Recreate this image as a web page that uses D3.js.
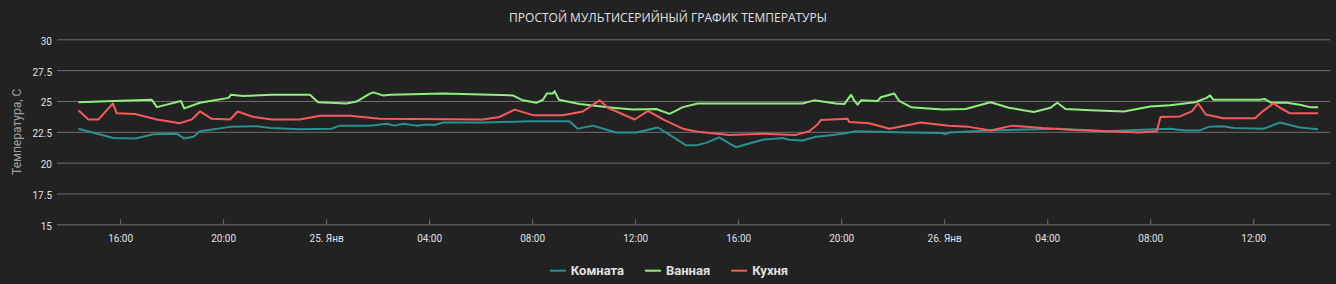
<!DOCTYPE html>
<html>
  <head>
    <meta charset="utf-8" />
    <title>temperature</title>
    <script src="https://cdn.jsdelivr.net/npm/d3@7"></script>
    <style type="text/css">
      body { margin: 0; background: #222222; }
      svg { display: block; }
    </style>
  </head>
  <body>
    <svg id="chart" width="1336" height="284"></svg>
    <script type="text/javascript">
      // hours since 24 Jan 00:00, temperature
      var komnata = [
        [14.38, 22.75], [15.74, 22.0], [16.6, 21.95], [17.3, 22.3], [18.2, 22.35], [18.5, 21.95],
        [18.85, 22.1], [19.1, 22.55], [20.27, 22.9], [21.3, 22.95], [21.85, 22.8], [22.98, 22.7],
        [24.2, 22.75], [24.53, 23.0], [25.7, 23.0], [26.35, 23.15], [26.65, 23.0], [27.0, 23.15],
        [27.5, 23.0], [27.9, 23.1], [28.2, 23.05], [28.55, 23.25], [30.1, 23.25], [31.9, 23.35],
        [33.45, 23.35], [33.77, 22.75], [34.36, 23.0], [35.26, 22.45], [36.04, 22.45], [36.88, 22.85],
        [37.34, 22.25], [37.98, 21.4], [38.36, 21.4], [38.75, 21.6], [39.26, 22.05], [39.91, 21.25],
        [40.95, 21.85], [41.72, 22.0], [41.98, 21.85], [42.5, 21.8], [43.02, 22.1], [43.53, 22.2],
        [44.05, 22.35], [44.57, 22.55], [46.63, 22.45], [47.9, 22.4], [48.05, 22.3], [48.2, 22.45],
        [49.73, 22.6], [52.45, 22.75], [54.39, 22.55], [54.98, 22.6], [56.19, 22.7], [56.77, 22.75],
        [57.35, 22.6], [57.9, 22.6], [58.26, 22.9], [58.84, 22.95], [59.23, 22.8], [60.39, 22.75],
        [60.6, 22.9], [61.04, 23.25], [61.81, 22.85], [62.52, 22.7]
      ];
      var vannaya = [
        [14.38, 24.9], [15.74, 25.0], [17.23, 25.1], [17.43, 24.5], [18.36, 25.0], [18.49, 24.4],
        [19.1, 24.85], [20.21, 25.25], [20.3, 25.5], [20.79, 25.4], [21.89, 25.5], [23.37, 25.5],
        [23.69, 24.9], [24.79, 24.8], [25.18, 24.95], [25.7, 25.6], [25.83, 25.7], [26.21, 25.45],
        [26.5, 25.5], [28.55, 25.6], [31.25, 25.45], [31.64, 25.05], [32.16, 24.85], [32.42, 25.1],
        [32.57, 25.6], [32.8, 25.6], [32.87, 25.8], [33.04, 25.1], [33.84, 24.75], [35.13, 24.45],
        [35.91, 24.3], [36.81, 24.35], [37.34, 23.95], [37.85, 24.5], [38.43, 24.8], [42.5, 24.8],
        [42.95, 25.05], [43.79, 24.8], [44.12, 24.75], [44.38, 25.5], [44.5, 25.05], [44.64, 24.7],
        [44.77, 25.05], [45.41, 25.0], [45.54, 25.3], [46.06, 25.6], [46.25, 25.0], [46.71, 24.5],
        [47.93, 24.3], [48.83, 24.35], [49.8, 24.9], [50.51, 24.45], [51.48, 24.1], [52.13, 24.45],
        [52.39, 24.85], [52.71, 24.35], [53.68, 24.25], [54.98, 24.15], [56.0, 24.55], [56.77, 24.65],
        [57.74, 24.9], [58.19, 25.25], [58.32, 25.45], [58.45, 25.1], [60.26, 25.1], [60.45, 25.15],
        [60.71, 24.85], [61.3, 24.85], [61.81, 24.7], [62.2, 24.5], [62.52, 24.5]
      ];
      var kuhnya = [
        [14.38, 24.25], [14.77, 23.5], [15.16, 23.5], [15.72, 24.8], [15.87, 24.0], [16.58, 23.95],
        [17.43, 23.5], [18.33, 23.2], [18.78, 23.5], [19.1, 24.15], [19.56, 23.55], [20.27, 23.5],
        [20.57, 24.15], [21.18, 23.7], [21.89, 23.5], [22.98, 23.5], [23.76, 23.8], [24.92, 23.8],
        [26.09, 23.55], [30.09, 23.5], [30.73, 23.7], [31.32, 24.3], [32.03, 23.85], [33.19, 23.85],
        [33.97, 24.15], [34.62, 25.05], [34.94, 24.45], [35.98, 23.5], [36.5, 24.2], [37.08, 23.5],
        [37.85, 22.75], [38.43, 22.5], [39.65, 22.25], [40.95, 22.35], [42.24, 22.25], [42.76, 22.55],
        [43.08, 23.1], [43.21, 23.45], [44.25, 23.55], [44.31, 23.3], [45.09, 23.2], [45.87, 22.75],
        [46.71, 23.1], [47.08, 23.25], [48.18, 23.0], [48.96, 22.9], [49.8, 22.6], [50.64, 23.0],
        [51.81, 22.8], [53.05, 22.65], [54.82, 22.5], [55.6, 22.45], [56.25, 22.55], [56.4, 23.7],
        [57.15, 23.75], [57.61, 24.15], [57.86, 24.8], [58.16, 23.9], [58.83, 23.6], [60.07, 23.6],
        [60.39, 24.2], [60.78, 24.8], [61.04, 24.45], [61.43, 24.0], [62.52, 24.0]
      ];

      var seriesNames = ['Комната', 'Ванная', 'Кухня'];
      var seriesColors = ['#2b908f', '#90ee7e', '#f45b5b'];
      var yTicks = [15, 17.5, 20, 22.5, 25, 27.5, 30];
      var title = 'ПРОСТОЙ МУЛЬТИСЕРИЙНЫЙ ГРАФИК ТЕМПЕРАТУРЫ';
      var yTitle = 'Температура, С';

      var t0 = Date.UTC(2021, 0, 24);
      var toDate = (h) => new Date(t0 + h * 3600000);

      var pLeft = 57, pRight = 1330, pTop = 39.3, pBottom = 224.3;
      var svg = d3.select('#chart');

      var x = d3.scaleUtc().domain([toDate(13.55), toDate(62.98)]).range([pLeft, pRight]);
      var y = d3.scaleLinear().domain([15, 30]).range([pBottom, pTop]);

      // title
      svg.append('text')
        .attr('x', 668).attr('y', 22)
        .attr('text-anchor', 'middle')
        .attr('fill', '#e0e0e3')
        .style('font', '12px "Open Sans", sans-serif')
        .text(title);

      // y axis with grid
      var ya = svg.append('g')
        .attr('transform', 'translate(' + pLeft + ',0)')
        .call(d3.axisLeft(y).tickValues(yTicks).tickSize(-(pRight - pLeft)).tickPadding(5)
          .tickFormat((d) => String(d)));
      ya.select('.domain').remove();
      ya.selectAll('line').attr('stroke', '#707073');
      ya.selectAll('text')
        .attr('fill', '#e0e0e3').attr('dy', '0.5em')
        .style('font', '10px Roboto, sans-serif');

      svg.append('text')
        .attr('transform', 'translate(21,' + (pTop + pBottom) / 2 + ') rotate(-90)')
        .attr('text-anchor', 'middle')
        .attr('fill', '#a0a0a3')
        .style('font', '12px Roboto, sans-serif')
        .text(yTitle);

      // x axis
      var fmt = (d) => (d.getUTCHours() === 0 ? d.getUTCDate() + '. Янв' : d3.utcFormat('%H:%M')(d));
      var xa = svg.append('g')
        .attr('transform', 'translate(0,' + pBottom + ')')
        .call(d3.axisBottom(x).ticks(d3.utcHour.every(4)).tickSize(-5).tickPadding(11).tickFormat(fmt));
      xa.select('.domain').remove();
      xa.selectAll('line').attr('stroke', '#707073');
      xa.selectAll('text').attr('fill', '#e0e0e3').style('font', '10px Roboto, sans-serif');

      // lines
      var line = d3.line().x((d) => x(toDate(d[0]))).y((d) => y(d[1]));
      [komnata, vannaya, kuhnya].forEach(function (s, i) {
        svg.append('path')
          .datum(s)
          .attr('fill', 'none')
          .attr('stroke', seriesColors[i])
          .attr('stroke-width', 2)
          .attr('stroke-linejoin', 'round')
          .attr('d', line);
      });

      // legend
      var lg = svg.append('g');
      var cx = 0;
      seriesNames.forEach(function (n, i) {
        lg.append('line')
          .attr('x1', cx).attr('x2', cx + 16)
          .attr('y1', 270.7).attr('y2', 270.7)
          .attr('stroke', seriesColors[i]).attr('stroke-width', 2);
        var t = lg.append('text')
          .attr('x', cx + 21).attr('y', 275)
          .attr('fill', '#e0e0e3')
          .style('font', 'bold 13px Roboto, sans-serif')
          .text(n);
        cx += 21 + t.node().getComputedTextLength() + 21;
      });
      var lw = cx - 21;
      lg.attr('transform', 'translate(' + (669 - lw / 2) + ',0)');
    </script>
  </body>
</html>
